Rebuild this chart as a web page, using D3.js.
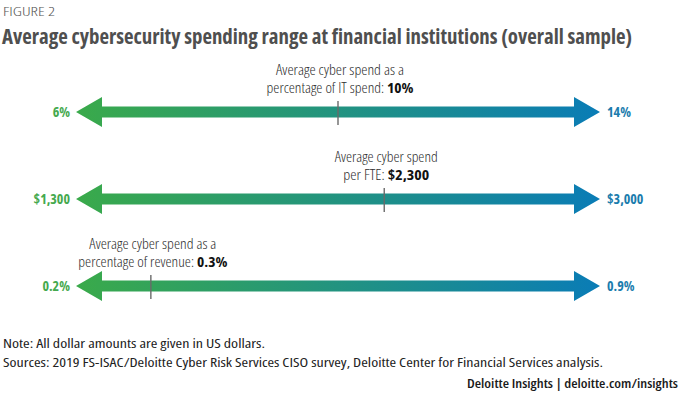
<!DOCTYPE html>
<html><head><meta charset="utf-8">
<script src="https://cdn.jsdelivr.net/npm/d3@7"></script>
<style>
html,body{margin:0;padding:0;background:#fff;}
svg{display:block;}
text{font-family:"Open Sans","Liberation Sans Narrow",sans-serif;font-stretch:condensed;}
</style></head>
<body>
<svg id="c" width="680" height="397"></svg>
<script>
const rows = ["it", "fte", "revenue"];
const minValues = [6, 1300, 0.2];
const maxValues = [14, 3000, 0.9];
const avgValues = [10, 2300, 0.3];
const minLabels = ["6%", "$1,300", "0.2%"];
const maxLabels = ["14%", "$3,000", "0.9%"];
const avgLabels = ["10%", "$2,300", "0.3%"];
const captionLine1 = ["Average cyber spend as a", "Average cyber spend", "Average cyber spend as a"];
const captionLine2 = ["percentage of IT spend: ", "per FTE: ", "percentage of revenue: "];

const svg = d3.select("#c");
const y = d3.scalePoint().domain(rows).range([112, 286]);
const X0 = 76, X1 = 600;
const headLen = 26, headHalf = 15, shaftHalf = 5.5;

const defs = svg.append("defs");
const grad = defs.append("linearGradient").attr("id", "g")
  .attr("gradientUnits", "userSpaceOnUse").attr("x1", X0).attr("x2", X1).attr("y1", 0).attr("y2", 0);
grad.append("stop").attr("offset", 0).attr("stop-color", "#3aaa4a");
grad.append("stop").attr("offset", 1).attr("stop-color", "#0a7cb6");

function fit(sel, w) {
  sel.each(function () {
    const len = this.getComputedTextLength();
    if (Math.abs(len - w) / w > 0.04) {
      d3.select(this).attr("textLength", w).attr("lengthAdjust", "spacingAndGlyphs");
    }
  });
}

// header
svg.append("text").attr("x", 3).attr("y", 16).attr("font-size", 13).attr("font-weight", 300).attr("fill", "#555")
  .text("FIGURE 2").call(fit, 52);
svg.append("text").attr("x", 2).attr("y", 44).attr("font-size", 22).attr("font-weight", 700).attr("fill", "#4f4f4f")
  .text("Average cybersecurity spending range at financial institutions (overall sample)").call(fit, 630);

const cap1W = [128, 103, 127];
const cap2W = [147, 86, 149];
const minW = [17, 36, 27];
const maxW = [24, 36, 28];

rows.forEach((r, i) => {
  const x = d3.scaleLinear().domain([minValues[i], maxValues[i]]).range([X0, X1]);
  const cy = y(r);
  const xl = x(minValues[i]), xr = x(maxValues[i]);
  const p = d3.path();
  p.moveTo(xl, cy);
  p.lineTo(xl + headLen, cy - headHalf);
  p.lineTo(xl + headLen, cy - shaftHalf);
  p.lineTo(xr - headLen, cy - shaftHalf);
  p.lineTo(xr - headLen, cy - headHalf);
  p.lineTo(xr, cy);
  p.lineTo(xr - headLen, cy + headHalf);
  p.lineTo(xr - headLen, cy + shaftHalf);
  p.lineTo(xl + headLen, cy + shaftHalf);
  p.lineTo(xl + headLen, cy + headHalf);
  p.closePath();
  svg.append("path").attr("d", p.toString()).attr("fill", "url(#g)");

  const xa = x(avgValues[i]);
  svg.append("line").attr("x1", xa).attr("x2", xa).attr("y1", cy - 11).attr("y2", cy + 13)
    .attr("stroke", "#6a6a6a").attr("stroke-width", 1.4);

  svg.append("text").attr("x", xl - 6).attr("y", cy + 5).attr("text-anchor", "end")
    .attr("font-size", 14).attr("font-weight", 700).attr("fill", "#45a94e").text(minLabels[i]).call(fit, minW[i]);
  svg.append("text").attr("x", xr + 7).attr("y", cy + 5)
    .attr("font-size", 14).attr("font-weight", 700).attr("fill", "#1a7cad").text(maxLabels[i]).call(fit, maxW[i]);

  svg.append("text").attr("x", xa + 2).attr("y", cy - 37).attr("text-anchor", "middle")
    .attr("font-size", 14.5).attr("font-weight", 300).attr("fill", "#2e2e2e").text(captionLine1[i]).call(fit, cap1W[i]);
  const t2 = svg.append("text").attr("x", xa + 2).attr("y", cy - 19).attr("text-anchor", "middle")
    .attr("font-size", 14.5).attr("font-weight", 300).attr("fill", "#2e2e2e");
  t2.append("tspan").text(captionLine2[i]);
  t2.append("tspan").attr("font-weight", 700).attr("fill", "#111").text(avgLabels[i]);
  t2.call(fit, cap2W[i]);
});

// footer
svg.append("text").attr("x", 3).attr("y", 348).attr("font-size", 12.5).attr("fill", "#222")
  .text("Note: All dollar amounts are given in US dollars.").call(fit, 262);
svg.append("text").attr("x", 3).attr("y", 367).attr("font-size", 12.5).attr("fill", "#222")
  .text("Sources: 2019 FS-ISAC/Deloitte Cyber Risk Services CISO survey, Deloitte Center for Financial Services analysis.").call(fit, 600);
svg.append("text").attr("x", 678).attr("y", 388).attr("text-anchor", "end").attr("font-size", 12.5)
  .attr("font-weight", 600).attr("fill", "#1a1a1a")
  .text("Deloitte Insights | deloitte.com/insights").call(fit, 211);
</script>
</body></html>
